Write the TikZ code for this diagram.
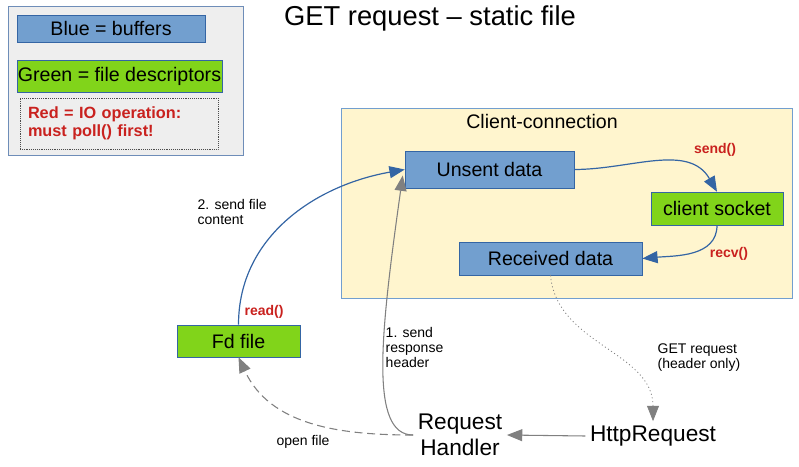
\documentclass[tikz,border=0pt]{standalone}
\usepackage{fontspec}
\setmainfont{Liberation Sans}
\usetikzlibrary{arrows.meta,calc}
\definecolor{bufblue}{HTML}{729FCF}
\definecolor{edgeblue}{HTML}{3465A4}
\definecolor{fdgreen}{HTML}{81D41A}
\definecolor{iored}{HTML}{C9211E}
\definecolor{connyellow}{HTML}{FFF5CE}
\definecolor{legendgray}{HTML}{EEEEEE}
\definecolor{legendedge}{HTML}{6E8DB8}
\definecolor{arrowgray}{HTML}{808080}

\begin{document}
\begin{tikzpicture}[x=0.75pt,y=0.75pt,
            sz/.style 2 args={minimum width=#1*0.75pt, minimum height=#2*0.75pt},
            boxtext/.style={font=\fontsize{14.7}{17}\selectfont},
            bufbox/.style={draw=edgeblue, fill=bufblue, boxtext, inner sep=0pt},
            fdbox/.style={draw=edgeblue, fill=fdgreen, boxtext, inner sep=0pt},
            iolabel/.style={text=iored, font=\fontsize{10.5}{12}\selectfont\bfseries},
            note/.style={align=left, anchor=west, font=\fontsize{10.5}{11.25}\selectfont},
            actor/.style={font=\fontsize{17}{19.5}\selectfont, align=center},
            blueflow/.style={-{Triangle[length=11.5pt,width=9pt]}, color=edgeblue, line width=0.9pt},
            grayflow/.style={-{Triangle[length=11.5pt,width=9pt]}, color=arrowgray, line width=0.8pt}]
            \useasboundingbox (0,0) rectangle (799,-467);

            % legend
            \node[draw=legendedge, fill=legendgray, sz={235}{149}] (legend) at (125.5,-80.5) {};
            \node[bufbox, sz={188}{27}] (keyblue) at (111,-28.5) {Blue = buffers};
            \node[fdbox, sz={205}{32}] (keygreen) at (119.5,-76) {Green = file descriptors};
            \node[draw=black!70, densely dotted, sz={198}{51}, text width=182*0.75pt, align=left,
                  text=iored, font=\fontsize{12.2}{13.5}\selectfont\bfseries] (keyred) at (119,-123.5)
                  {Red = IO operation:\\must poll() first!};

            \node[font=\fontsize{20.5}{24}\selectfont] (title) at (430,-18) {GET request -- static file};

            % client connection
            \node[draw=bufblue, fill=connyellow, sz={451}{190}] (client) at (566.5,-203) {};
            \node[boxtext] (clienttitle) at (542,-121) {Client-connection};
            \node[bufbox, sz={169}{37}] (unsent) at (489.5,-169.5) {Unsent data};
            \node[fdbox, sz={132}{33}] (socket) at (717,-208.5) {client socket};
            \node[bufbox, sz={183}{33}] (received) at (550.5,-258.5) {Received data};
            \node[iolabel] (send) at (715,-150) {send()};
            \node[iolabel] (recv) at (729,-254) {recv()};

            \node[fdbox, sz={123}{32}] (fd) at (238.5,-341) {Fd file};
            \node[iolabel] (read) at (264,-312) {read()};

            \node[actor] (handler) at (460,-435) {Request\\Handler};
            \node[actor] (http) at (653,-436) {HttpRequest};

            \node[note] (sendcontent) at (193,-212) {2. send file\\content};
            \node[note] (sendheader) at (381,-347) {1. send\\response\\header};
            \node[note] (getreq) at (653,-358) {GET request\\(header only)};
            \node[font=\fontsize{10.5}{12}\selectfont] (openfile) at (303,-442) {open file};

            % flows
            \path[blueflow] (unsent.east) edge[out=0, in=120] (socket.north);
            \path[blueflow] (socket.south) edge[out=-90, in=5] (received.east);
            \path[blueflow] (fd.north) edge[out=90, in=190] (unsent.west);
            \draw[grayflow] (handler.west) .. controls +(180:44) and +(262:160) .. ($(unsent.west)+(-2,-6)$);
            \path[grayflow, dash pattern=on 6pt off 3.5pt] (handler.west) edge[out=180, in=-65] (fd.south);
            \path[grayflow, dotted, line width=0.6pt] (received.south) edge[out=-85, in=90] (http.north);
            \path[grayflow] (http.west) edge (handler.east);
        \end{tikzpicture}
\end{document}
